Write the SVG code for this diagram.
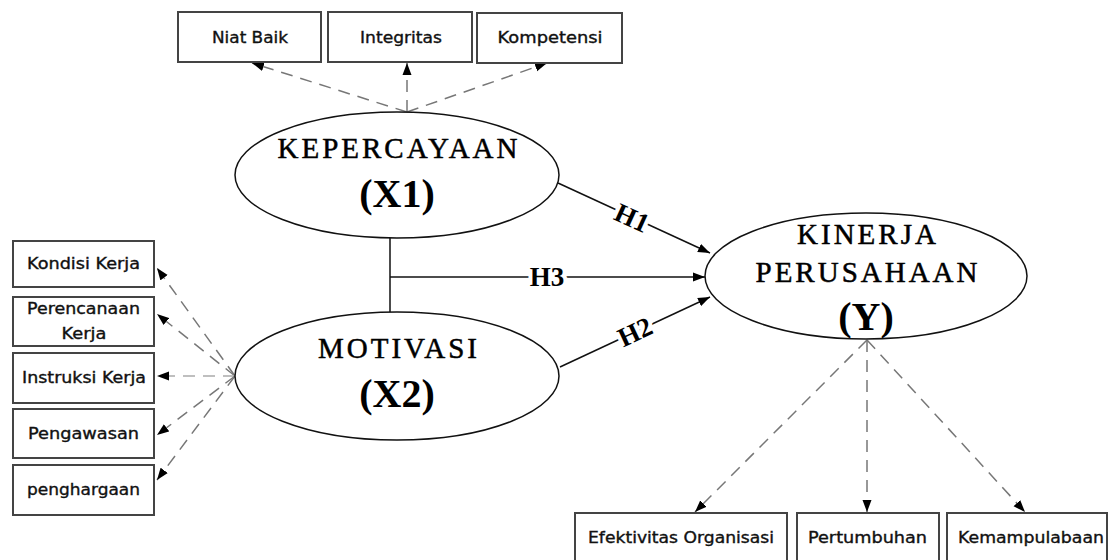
<svg xmlns="http://www.w3.org/2000/svg" width="1109" height="560" viewBox="0 0 1109 560">
<style>
.box{fill:#fff;stroke:#444;stroke-width:2}
.ell{fill:#fff;stroke:#111;stroke-width:1.5}
.lbl{font-family:"DejaVu Sans",sans-serif;font-size:15px;fill:#111;stroke:#111;stroke-width:0.35px;text-anchor:middle}
.big{font-family:"Liberation Serif",serif;font-size:29px;fill:#000;stroke:#000;stroke-width:0.5px;text-anchor:middle;letter-spacing:3px}
.var{font-family:"Liberation Serif",serif;font-size:40px;font-weight:bold;fill:#000;text-anchor:middle}
.h{font-family:"Liberation Serif",serif;font-size:27px;font-weight:bold;fill:#000;text-anchor:middle;dominant-baseline:central;paint-order:stroke;stroke:#fff;stroke-width:8px}
.dash{fill:none;stroke:#777;stroke-width:1.5;stroke-dasharray:12 8}
.dashl{fill:none;stroke:#aaa;stroke-width:1.5;stroke-dasharray:12 8}
.solid{fill:none;stroke:#111;stroke-width:1.5}
</style>
<defs>
<marker id="ah" markerUnits="userSpaceOnUse" markerWidth="12" markerHeight="10" refX="12" refY="5" orient="auto">
<path d="M0,0.5 L12,5 L0,9.5 z" fill="#000"/>
</marker>
</defs>
<rect width="1109" height="560" fill="#fff"/>

<g id="connectors">
<line class="dash" x1="407" y1="112" x2="252" y2="63" marker-end="url(#ah)"/>
<line class="dash" x1="407" y1="112" x2="407" y2="63" marker-end="url(#ah)"/>
<line class="dash" x1="407" y1="112" x2="547" y2="63" marker-end="url(#ah)"/>
<line class="dash" x1="235" y1="376" x2="157" y2="268" marker-end="url(#ah)"/>
<line class="dash" x1="235" y1="376" x2="157" y2="314" marker-end="url(#ah)"/>
<line class="dashl" x1="235" y1="376" x2="157" y2="376" marker-end="url(#ah)"/>
<line class="dash" x1="235" y1="376" x2="157" y2="435" marker-end="url(#ah)"/>
<line class="dash" x1="235" y1="376" x2="157" y2="480" marker-end="url(#ah)"/>
<line class="dash" x1="867" y1="340" x2="695" y2="512" marker-end="url(#ah)"/>
<line class="dash" x1="867" y1="340" x2="867" y2="512" marker-end="url(#ah)"/>
<line class="dash" x1="867" y1="340" x2="1025" y2="512" marker-end="url(#ah)"/>
<line class="solid" x1="390" y1="238" x2="390" y2="312"/>
<line class="solid" x1="390" y1="277" x2="705" y2="277" marker-end="url(#ah)"/>
<line class="solid" x1="558" y1="183" x2="710" y2="253" marker-end="url(#ah)"/>
<line class="solid" x1="560" y1="367" x2="710" y2="297" marker-end="url(#ah)"/>
<text class="h" x="632" y="218" transform="rotate(24.7 632 218)">H1</text>
<text class="h" x="547" y="277">H3</text>
<text class="h" x="635" y="332" transform="rotate(-25 635 332)">H2</text>
</g>

<g id="niat-baik"><rect class="box" x="178" y="12" width="143" height="50"/><text class="lbl" x="250" y="43" textLength="76" lengthAdjust="spacingAndGlyphs">Niat Baik</text></g>
<g id="integritas"><rect class="box" x="328" y="12" width="144" height="50"/><text class="lbl" x="401" y="43" textLength="82" lengthAdjust="spacingAndGlyphs">Integritas</text></g>
<g id="kompetensi"><rect class="box" x="477" y="13" width="145" height="50"/><text class="lbl" x="550" y="43" textLength="105" lengthAdjust="spacingAndGlyphs">Kompetensi</text></g>

<g id="kepercayaan"><ellipse class="ell" cx="397" cy="175" rx="162" ry="63"/><text class="big" x="399" y="158">KEPERCAYAAN</text><text class="var" x="397" y="207">(X1)</text></g>
<g id="motivasi"><ellipse class="ell" cx="397" cy="376" rx="162" ry="64"/><text class="big" x="399" y="358">MOTIVASI</text><text class="var" x="397" y="407">(X2)</text></g>
<g id="kinerja"><ellipse class="ell" cx="866" cy="276" rx="161" ry="63"/><text class="big" x="868" y="244">KINERJA</text><text class="big" x="868" y="282">PERUSAHAAN</text><text class="var" x="866" y="330">(Y)</text></g>

<g id="kondisi-kerja"><rect class="box" x="13" y="241" width="141" height="46"/><text class="lbl" x="83.5" y="269" textLength="113" lengthAdjust="spacingAndGlyphs">Kondisi Kerja</text></g>
<g id="perencanaan-kerja"><rect class="box" x="13" y="297" width="141" height="49"/><text class="lbl" x="83.5" y="314" textLength="113" lengthAdjust="spacingAndGlyphs">Perencanaan</text><text class="lbl" x="84" y="339" textLength="45" lengthAdjust="spacingAndGlyphs">Kerja</text></g>
<g id="instruksi-kerja"><rect class="box" x="13" y="353" width="141" height="50"/><text class="lbl" x="84" y="383" textLength="124" lengthAdjust="spacingAndGlyphs">Instruksi Kerja</text></g>
<g id="pengawasan"><rect class="box" x="13" y="409" width="141" height="49"/><text class="lbl" x="83.5" y="439" textLength="111" lengthAdjust="spacingAndGlyphs">Pengawasan</text></g>
<g id="penghargaan"><rect class="box" x="13" y="465" width="141" height="50"/><text class="lbl" x="83.5" y="495" textLength="113" lengthAdjust="spacingAndGlyphs">penghargaan</text></g>

<g id="efektivitas"><rect class="box" x="575" y="513" width="212" height="60"/><text class="lbl" x="681" y="543" textLength="186" lengthAdjust="spacingAndGlyphs">Efektivitas Organisasi</text></g>
<g id="pertumbuhan"><rect class="box" x="797" y="513" width="142" height="60"/><text class="lbl" x="867.5" y="543" textLength="119" lengthAdjust="spacingAndGlyphs">Pertumbuhan</text></g>
<g id="kemampulabaan"><rect class="box" x="947" y="513" width="160" height="60"/><text class="lbl" x="1031" y="543" textLength="146" lengthAdjust="spacingAndGlyphs">Kemampulabaan</text></g>
</svg>
